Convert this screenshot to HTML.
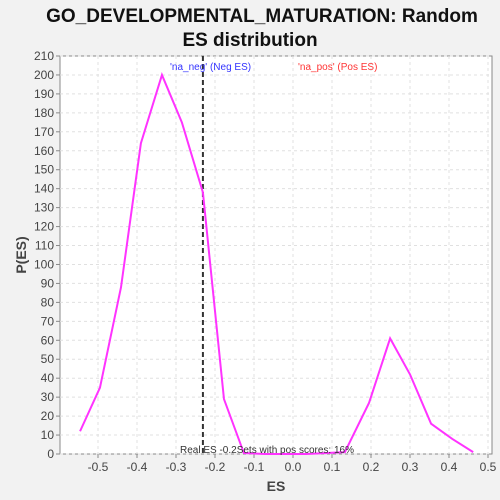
<!DOCTYPE html>
<html><head><meta charset="utf-8"><style>
html,body{margin:0;padding:0;width:500px;height:500px;overflow:hidden;background:#f2f2f2;font-family:"Liberation Sans",sans-serif}
svg{display:block}
</style></head><body>
<svg width="500" height="500" xmlns="http://www.w3.org/2000/svg">
<rect width="500" height="500" fill="#f2f2f2"/>
<text x="262" y="22" text-anchor="middle" font-size="19" font-weight="bold" fill="#111">GO_DEVELOPMENTAL_MATURATION: Random</text>
<text x="250" y="46" text-anchor="middle" font-size="19" font-weight="bold" fill="#111">ES distribution</text>
<rect x="60" y="56" width="432" height="398" fill="#fff" stroke="#888"/>
<g id="grid"></g><g id="axes"></g><g id="marks"></g>
<text x="276" y="491" text-anchor="middle" font-size="14" font-weight="bold" fill="#444">ES</text>
<text transform="translate(26,255) rotate(-90)" text-anchor="middle" font-size="14" font-weight="bold" fill="#444">P(ES)</text>
<text x="170" y="70" font-size="10" fill="#3333ff">'na_neg' (Neg ES)</text>
<text x="298" y="70" font-size="10" fill="#ff3333">'na_pos' (Pos ES)</text>
<text x="180" y="453" font-size="10" fill="#333">Real ES -0.2Sets with pos scores: 16%</text>
</svg>
<script>
const esValues=[-0.546,-0.495,-0.441,-0.390,-0.336,-0.285,-0.231,-0.177,-0.126,-0.072,-0.019,0.034,0.087,0.133,0.195,0.249,0.300,0.354,0.408,0.462];
const density=[12,35,88,164,200,175,138,29,0.5,0,0,0,0.5,1,27,61,42,16,8,1];
const xTicks=[-0.5,-0.4,-0.3,-0.2,-0.1,0.0,0.1,0.2,0.3,0.4,0.5];
const yTicks=[0,10,20,30,40,50,60,70,80,90,100,110,120,130,140,150,160,170,180,190,200,210];
const realES=-0.231;
const NS="http://www.w3.org/2000/svg";
const X=v=>293+v*390, Y=v=>454-v*398/210;
const grid=document.getElementById('grid'),axes=document.getElementById('axes'),marks=document.getElementById('marks');
function mk(tag,attrs,parent){const e=document.createElementNS(NS,tag);for(const k in attrs)e.setAttribute(k,attrs[k]);parent.appendChild(e);return e;}
xTicks.forEach(t=>{
 const g=mk('line',{x1:X(t),x2:X(t),y1:56,y2:454,stroke:'#e0e0e0','stroke-dasharray':'3,3'},grid);
 
 
 const tk=mk('line',{x1:X(t),x2:X(t),y1:454,y2:458,stroke:'#888'},axes);
 
 
 const l=mk('text',{x:X(t),y:471,'text-anchor':'middle','font-size':12,fill:'#444'},axes);
 l.textContent=t.toFixed(1);
 
 
});
yTicks.forEach(t=>{
 const g=mk('line',{x1:60,x2:492,y1:Y(t),y2:Y(t),stroke:'#e0e0e0','stroke-dasharray':'3,3'},grid);
 
 
 const tk=mk('line',{x1:56,x2:60,y1:Y(t),y2:Y(t),stroke:'#888'},axes);
 
 
 const l=mk('text',{x:54,y:Y(t)+4,'text-anchor':'end','font-size':12,fill:'#444'},axes);
 l.textContent=t;
 
 
});
const rl=mk('line',{x1:X(realES),x2:X(realES),y1:56,y2:454,stroke:'#333','stroke-width':2,'stroke-dasharray':'5,3'},marks);


const pl=mk('polyline',{points:esValues.map((v,i)=>X(v)+','+Y(density[i])).join(' '),fill:'none',stroke:'#ff33ff','stroke-width':2},marks);


</script>
</body></html>
